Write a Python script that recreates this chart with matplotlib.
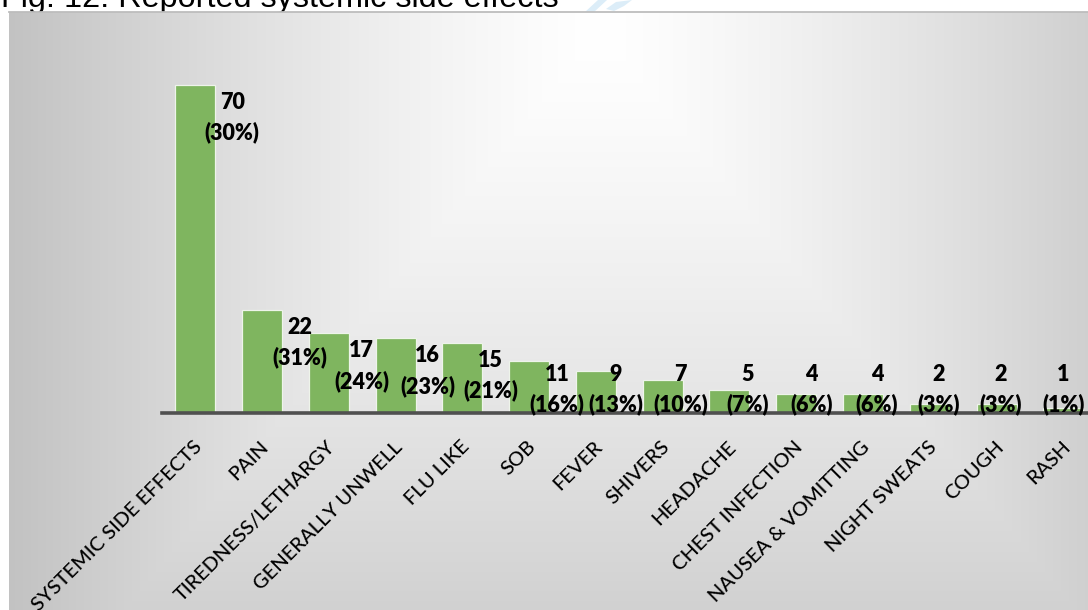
import numpy as np
import matplotlib
matplotlib.use("Agg")
import matplotlib.pyplot as plt
from matplotlib.font_manager import FontProperties
from matplotlib.lines import Line2D
from matplotlib.patches import Polygon
from matplotlib.transforms import ScaledTranslation

categories = [
    "SYSTEMIC SIDE EFFECTS", "PAIN", "TIREDNESS/LETHARGY", "GENERALLY UNWELL",
    "FLU LIKE", "SOB", "FEVER", "SHIVERS", "HEADACHE", "CHEST INFECTION",
    "NAUSEA & VOMITTING", "NIGHT SWEATS", "COUGH", "RASH",
]
counts = [70, 22, 17, 16, 15, 11, 9, 7, 5, 4, 4, 2, 2, 1]
percents = [30, 31, 24, 23, 21, 16, 13, 10, 7, 6, 6, 3, 3, 1]

# horizontal nudge of each value label (pixels, to the right of its bar)
label_dx = [37, 38, 33, 32, 28, 28, 20, 18, 18, 15, 14, 9, 4, 0]

W, H, DPI = 1088, 610, 100
PX = 72.0 / DPI  # points per pixel

fig = plt.figure(figsize=(W / DPI, H / DPI), dpi=DPI)
fig.patch.set_facecolor("white")

# title sits behind the panel, which hides its upper part
fig.text(1 / W, 1 - 7 / H, "Fig. 12: Reported systemic side effects",
         family="Liberation Sans", fontsize=23.3, color="black",
         ha="left", va="baseline", zorder=-5)

# decorative light-blue swoosh next to the title
fig.add_artist(Polygon([(585 / W, 1 - 12 / H), (598 / W, 1.0), (607 / W, 1.0),
                        (594 / W, 1 - 12 / H)], closed=True,
                       transform=fig.transFigure, facecolor="#dcedf8",
                       edgecolor="none", zorder=-4))
fig.add_artist(Polygon([(606 / W, 1 - 9 / H), (616 / W, 1 - 2 / H), (632 / W, 1.0),
                        (624 / W, 1 - 6 / H), (614 / W, 1 - 11 / H)], closed=True,
                       transform=fig.transFigure, facecolor="#dcedf8",
                       edgecolor="none", zorder=-4))

# grey path-gradient background panel
px0, py0 = 9, 12
bg = fig.add_axes([px0 / W, 0, 1 - px0 / W, (H - py0) / H], zorder=0)
yy, xx = np.mgrid[py0:H, px0:W].astype(float)
cx, cy = 600.0, 30.0
t = np.maximum(np.abs(xx - cx) / 600.0, np.abs(yy - cy) / 730.0)
val = 255 - 62 * np.clip(t, 0, 1) ** 1.3
img = np.dstack([val, val, val]) / 255.0
bg.imshow(img, aspect="auto", interpolation="bilinear", extent=[0, 1, 0, 1])
bg.set_axis_off()
fig.add_artist(Line2D([px0 / W, 1], [1 - 11.5 / H] * 2, color="#bdbdbd",
                      lw=1.3, transform=fig.transFigure, zorder=1))

# chart area
left, right = 161.9, 1096.7
base, top = 413.0, 38.0
ax = fig.add_axes([left / W, (H - base) / H, (right - left) / W, (base - top) / H],
                  zorder=2)
ax.set_facecolor("none")

x = np.arange(len(categories))
ax.bar(x, counts, width=0.6, color="#7fb55f", edgecolor="#eef4ea",
       linewidth=0.9, zorder=2)
ax.set_xlim(-0.5, len(categories) - 0.5)
ax.set_ylim(0, 80)

for s in ("top", "left", "right"):
    ax.spines[s].set_visible(False)
ax.spines["bottom"].set_color("#505050")
ax.spines["bottom"].set_linewidth(2.6)
ax.spines["bottom"].set_zorder(3)
ax.set_yticks([])

tick_font = FontProperties(family="Lato", weight=500, size=14.5)
ax.set_xticks(x)
ax.set_xticklabels(categories, rotation=45, ha="right", va="center",
                   rotation_mode="anchor", fontproperties=tick_font,
                   color="black")
ax.tick_params(axis="x", length=0, pad=31 * PX)
shift = ScaledTranslation(4 / DPI, 0, fig.dpi_scale_trans)
for lab in ax.get_xticklabels():
    lab.set_transform(lab.get_transform() + shift)

# value labels: count and share, tucked beside each bar
lab_font = FontProperties(family="Lato", weight=800, size=15.5)
for i, (c, p) in enumerate(zip(counts, percents)):
    ax.annotate(f"{c}\n({p}%)", xy=(i, max(c, 12)),
                xytext=(label_dx[i] * PX, -7 * PX), textcoords="offset points",
                ha="center", va="top", fontproperties=lab_font,
                linespacing=1.5, color="black", zorder=4,
                annotation_clip=False)

fig.savefig("out.png", dpi=DPI)
